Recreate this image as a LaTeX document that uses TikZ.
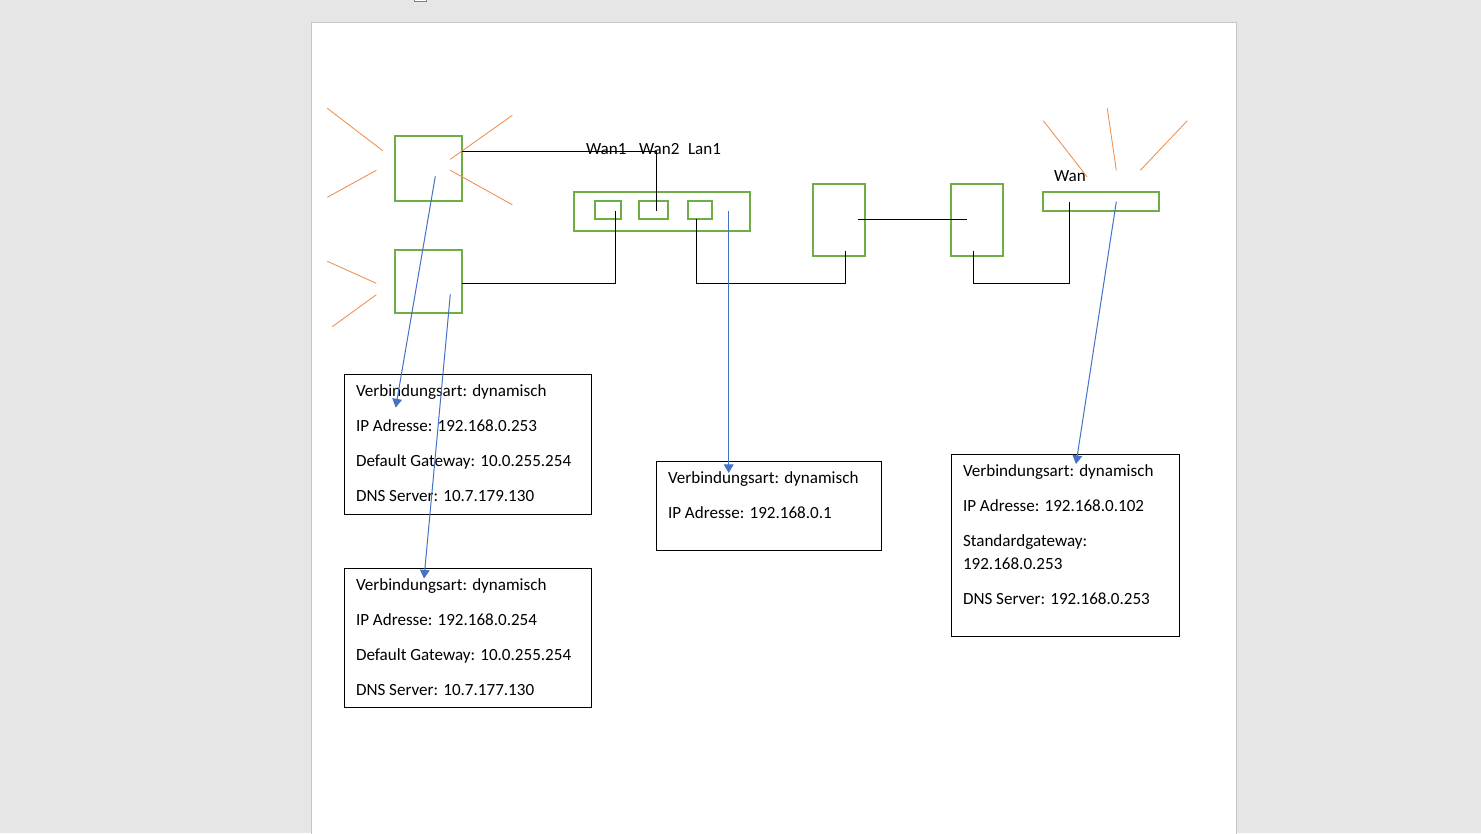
\documentclass[tikz,border=0pt]{standalone}
\usepackage{fontspec}
\setmainfont{Carlito}
\usetikzlibrary{arrows,positioning}

\definecolor{pagegray}{HTML}{E6E6E6}
\definecolor{edgegray}{HTML}{C6C6C6}
\definecolor{boxgreen}{HTML}{70AD47}
\definecolor{rayorange}{HTML}{ED7D31}
\definecolor{arrowblue}{HTML}{4472C4}

\tikzset{
    dim/.style 2 args={minimum width=#1*0.75pt,minimum height=#2*0.75pt},
    greenbox/.style={draw=boxgreen,line width=1.7pt,rectangle,inner sep=0,outer sep=0},
    infobox/.style={draw=black,line width=0.75pt,rectangle,inner sep=0,outer sep=0},
    lbl/.style={anchor=base west,inner sep=0,outer sep=0,font=\fontsize{12.8pt}{15pt}\selectfont},
    ray/.style={draw=rayorange!85,line width=0.65pt},
    wire/.style={draw=black,line width=0.75pt},
    link/.style={draw=arrowblue,line width=0.75pt,->}
}

\begin{document}
\begin{tikzpicture}[x=0.75pt,y=-0.75pt,>=triangle 60]
    \useasboundingbox (0,0) rectangle (1481,833);

    % window and page
    \fill[pagegray] (0,0) rectangle (1481,833);
    \filldraw[fill=white,draw=edgegray,line width=0.75pt] (311.5,22.5) rectangle (1236.5,840);
    \filldraw[fill=white,draw=gray,line width=0.75pt] (414.5,-5) rectangle (426.5,1.5);

    % devices
    \node[greenbox,dim={67}{65}] (R1) at (428.5,168.5) {};
    \node[greenbox,dim={67}{63}] (R2) at (428.5,281.5) {};
    \node[greenbox,dim={176}{39}] (SW) at (662,211.5) {};
    \node[greenbox,dim={26.5}{18}] (P1) at (608,210) {};
    \node[greenbox,dim={29}{18}] (P2) at (653.5,210) {};
    \node[greenbox,dim={24}{18}] (P3) at (700,210) {};
    \node[greenbox,dim={52}{72}] (C1) at (839,220) {};
    \node[greenbox,dim={52}{72}] (C2) at (977,220) {};
    \node[greenbox,dim={116}{19}] (AP) at (1101,201.5) {};

    % labels at the devices
    \node[lbl] (wanA) at (586,154) {Wan1};
    \node[lbl] (wanB) at (639,154) {Wan2};
    \node[lbl] (lanA) at (688,154) {Lan1};
    \node[lbl] (wanC) at (1054,181) {Wan};

    % rays
    \coordinate (a1) at (327.3,108.3);
    \coordinate (a2) at (382.7,150.7);
    \coordinate (b1) at (327.3,197.3);
    \coordinate (b2) at (376.3,170.3);
    \coordinate (c1) at (512.3,115.3);
    \coordinate (c2) at (450.3,159.3);
    \coordinate (d1) at (512.3,204.7);
    \coordinate (d2) at (450.3,170.3);
    \coordinate (e1) at (327.3,261.3);
    \coordinate (e2) at (376.3,283.3);
    \coordinate (f1) at (332.3,326.7);
    \coordinate (f2) at (376.3,294.7);
    \coordinate (g1) at (1043.3,120.7);
    \coordinate (g2) at (1087,176.7);
    \coordinate (h1) at (1107.3,108.3);
    \coordinate (h2) at (1116.3,170.3);
    \coordinate (i1) at (1187.3,120.7);
    \coordinate (i2) at (1140.3,170.3);

    \draw[ray] (a1)--(a2);
    \draw[ray] (b1)--(b2);
    \draw[ray] (c1)--(c2);
    \draw[ray] (d1)--(d2);
    \draw[ray] (e1)--(e2);
    \draw[ray] (f1)--(f2);
    \draw[ray] (g1)--(g2);
    \draw[ray] (h1)--(h2);
    \draw[ray] (i1)--(i2);

    % cables
    \coordinate (R1') at (462,151.3);
    \coordinate (P2') at (656.4,211.3);
    \coordinate (R2') at (462,283.3);
    \coordinate (P1') at (615.4,211.3);
    \coordinate (P3') at (696.4,219);
    \coordinate (Q3) at (696.4,283.3);
    \coordinate (C1') at (845.4,250.7);
    \coordinate (C1'') at (858.3,219.3);
    \coordinate (C2'') at (967.3,219.3);
    \coordinate (C2') at (973.4,250.7);
    \coordinate (Q4) at (973.4,283.3);
    \coordinate (AP') at (1069.4,201.7);

    \draw[wire] (R1') -| (P2');
    \draw[wire] (R2') -| (P1');
    \draw[wire] (P3')--(Q3) -| (C1');
    \draw[wire] (C1'')--(C2'');
    \draw[wire] (C2')--(Q4) -| (AP');

    % info boxes
    \node[infobox,dim={247}{140}] (T1) at (468,444.5) {};
    \node[infobox,dim={247}{139}] (T2) at (468,638) {};
    \node[infobox,dim={225}{89}] (T3) at (769,506) {};
    \node[infobox,dim={228}{182}] (T4) at (1065.5,545.5) {};

    \node[lbl] (t11) at (356,396) {Verbindungsart: dynamisch};
    \node[lbl] (t12) at (356,431) {IP Adresse: 192.168.0.253};
    \node[lbl] (t13) at (356,466) {Default Gateway: 10.0.255.254};
    \node[lbl] (t14) at (356,501) {DNS Server: 10.7.179.130};

    \node[lbl] (t21) at (356,590) {Verbindungsart: dynamisch};
    \node[lbl] (t22) at (356,625) {IP Adresse: 192.168.0.254};
    \node[lbl] (t23) at (356,660) {Default Gateway: 10.0.255.254};
    \node[lbl] (t24) at (356,695) {DNS Server: 10.7.177.130};

    \node[lbl] (t31) at (668,483) {Verbindungsart: dynamisch};
    \node[lbl] (t32) at (668,518) {IP Adresse: 192.168.0.1};

    \node[lbl] (t41) at (963,476) {Verbindungsart: dynamisch};
    \node[lbl] (t42) at (963,511) {IP Adresse: 192.168.0.102};
    \node[lbl] (t43) at (963,546) {Standardgateway:};
    \node[lbl] (t44) at (963,569) {192.168.0.253};
    \node[lbl] (t45) at (963,604) {DNS Server: 192.168.0.253};

    % arrows to the info boxes
    \coordinate (s1) at (435.3,176.3);
    \coordinate (s2) at (450.3,294.3);
    \coordinate (s3) at (728.7,211.3);
    \coordinate (s4) at (1116.3,201.7);
    \coordinate (e1') at (395.7,407.5);
    \coordinate (e2') at (424,578.5);
    \coordinate (e3') at (728.7,473);
    \coordinate (e4') at (1076,464);

    \draw[link] (s1)--(e1');
    \draw[link] (s2)--(e2');
    \draw[link] (s3)--(e3');
    \draw[link] (s4)--(e4');
\end{tikzpicture}
\end{document}
